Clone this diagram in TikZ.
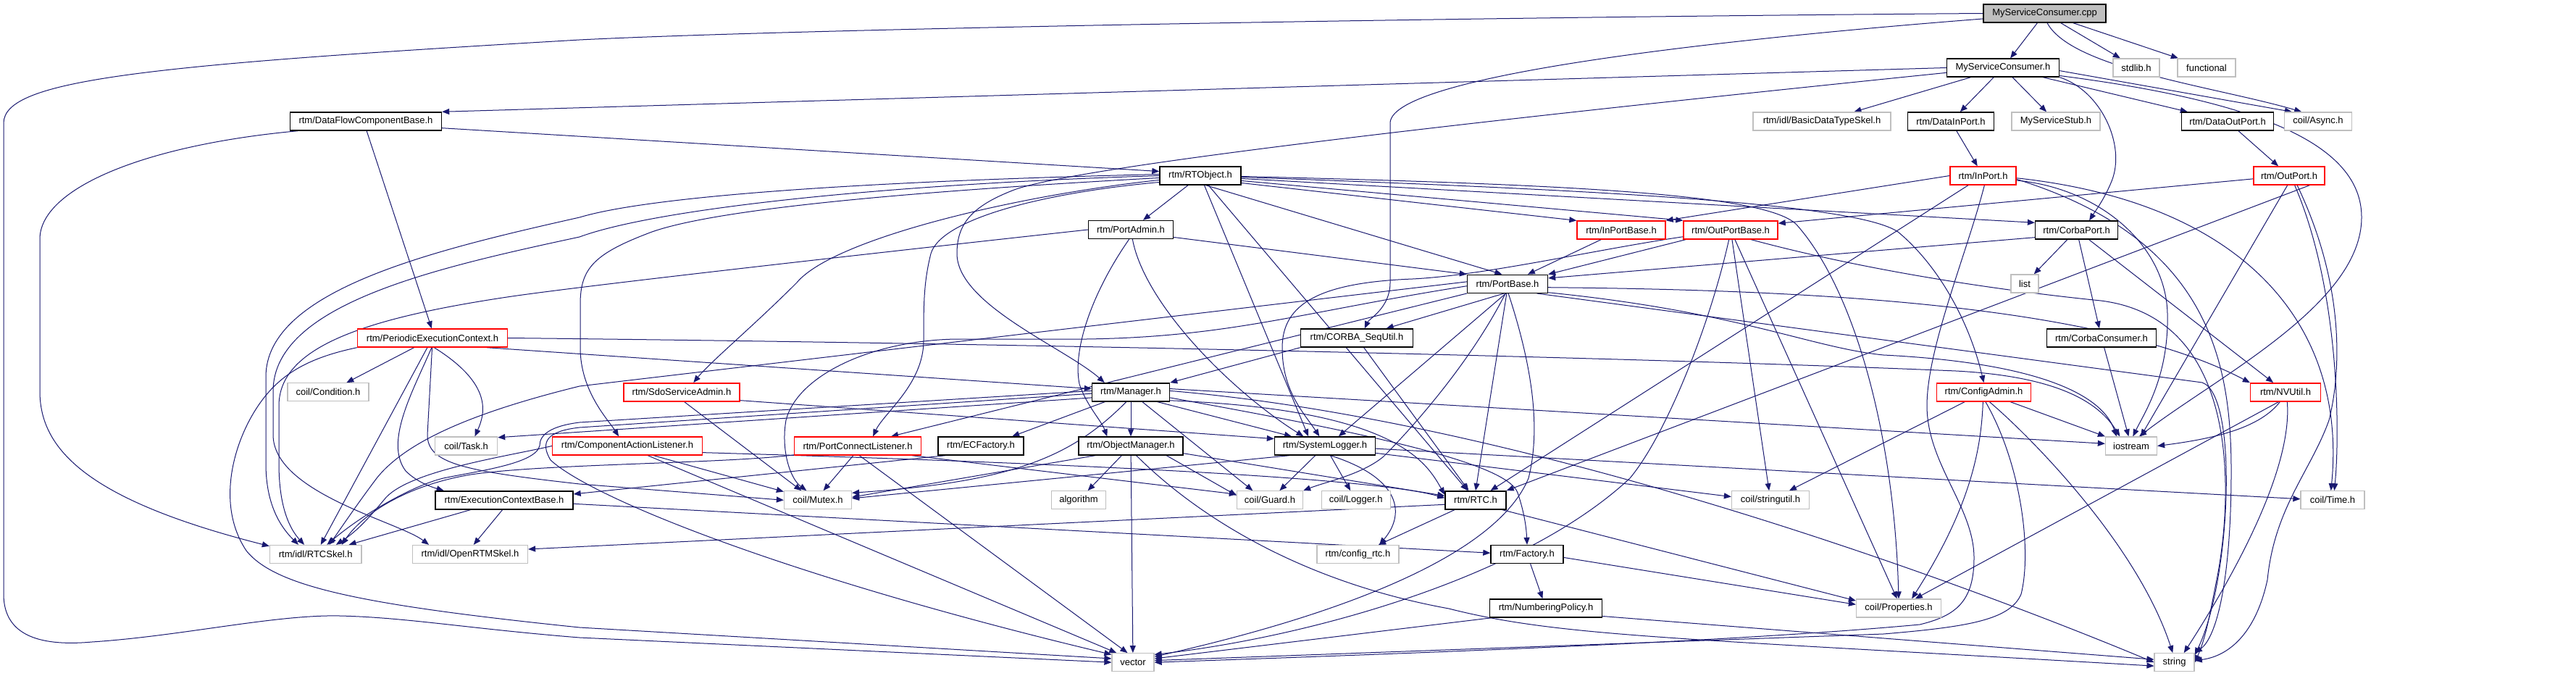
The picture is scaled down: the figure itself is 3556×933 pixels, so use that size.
\documentclass[tikz,border=0pt]{standalone}
\usepackage{fontspec}
\setmainfont{Liberation Sans}
\usetikzlibrary{arrows.meta}
\definecolor{edgec}{HTML}{191970}
\definecolor{extg}{HTML}{BFBFBF}
\definecolor{cppfill}{HTML}{BFBFBF}
\definecolor{trc}{HTML}{FF0000}
\pgfdeclarelayer{bg}
\pgfsetlayers{bg,main}
\tikzset{
  box/.style={draw=black,line width=1.4pt,fill=white,minimum height=25pt,inner sep=0pt,font=\fontsize{13}{15}\selectfont},
  docb/.style={box},
  extb/.style={box,draw=extg,line width=1.3pt},
  trub/.style={box,draw=trc},
  ed/.style={draw=edgec,line width=1pt,-{Triangle[length=10pt,width=8pt]}},
}
\newcommand\mknode[5]{\node[#1,minimum width=#4pt] (#2) at (#3) {#5};}
\begin{document}
\begin{tikzpicture}[x=1pt,y=-1pt]
\useasboundingbox (0,0) rectangle (3556,933);
% ---------------- nodes
\mknode{docb,fill=cppfill}{cpp}{2822.5,18.5}{169}{MyServiceConsumer.cpp}
\mknode{docb}{msh}{2765,93.5}{155}{MyServiceConsumer.h}
\mknode{extb}{stdlib}{2949,93.5}{64}{stdlib.h}
\mknode{extb}{functional}{3046,93.5}{80}{functional}
\mknode{extb}{async}{3200,167.5}{93}{coil/Async.h}
\mknode{extb}{bdts}{2515,167.5}{190}{rtm/idl/BasicDataTypeSkel.h}
\mknode{docb}{dinport}{2693,167.5}{119}{rtm/DataInPort.h}
\mknode{extb}{stub}{2838,167.5}{122}{MyServiceStub.h}
\mknode{docb}{doutport}{3075,167.5}{127}{rtm/DataOutPort.h}
\mknode{docb}{dfcb}{505,167.5}{209}{rtm/DataFlowComponentBase.h}
\mknode{docb}{rtobj}{1657,242.5}{112}{rtm/RTObject.h}
\mknode{trub}{inport}{2737.5,242.5}{91}{rtm/InPort.h}
\mknode{trub}{outport}{3160,242.5}{98}{rtm/OutPort.h}
\mknode{docb}{portadmin}{1561,317}{117}{rtm/PortAdmin.h}
\mknode{trub}{inportbase}{2238,317.5}{122}{rtm/InPortBase.h}
\mknode{trub}{outportbase}{2389,317.5}{130}{rtm/OutPortBase.h}
\mknode{docb}{corbaport}{2866.6,317.5}{114}{rtm/CorbaPort.h}
\mknode{docb}{portbase}{2081,391.8}{111}{rtm/PortBase.h}
\mknode{extb}{list}{2795,391.5}{38}{list}
\mknode{docb}{corbaseq}{1873,466.5}{155}{rtm/CORBA\_SeqUtil.h}
\mknode{docb}{corbacons}{2901,466.5}{151}{rtm/CorbaConsumer.h}
\mknode{trub}{pec}{597,466.5}{207}{rtm/PeriodicExecutionContext.h}
\mknode{trub}{sdo}{941,541.3}{160}{rtm/SdoServiceAdmin.h}
\mknode{docb}{manager}{1561,541.3}{107}{rtm/Manager.h}
\mknode{trub}{configadmin}{2738.5,541.3}{130}{rtm/ConfigAdmin.h}
\mknode{trub}{nvutil}{3155,541.3}{97}{rtm/NVUtil.h}
\mknode{extb}{condition}{453,541.3}{112}{coil/Condition.h}
\mknode{extb}{task}{643.6,615.5}{86}{coil/Task.h}
\mknode{trub}{cal}{866,615.5}{207}{rtm/ComponentActionListener.h}
\mknode{trub}{pcl}{1184,615.5}{174.5}{rtm/PortConnectListener.h}
\mknode{docb}{ecfactory}{1354,615.5}{118}{rtm/ECFactory.h}
\mknode{docb}{objmgr}{1561,615.5}{144}{rtm/ObjectManager.h}
\mknode{docb}{syslog}{1829,615.5}{139}{rtm/SystemLogger.h}
\mknode{extb}{iostream}{2942,615.5}{71}{iostream}
\mknode{docb}{ecbase}{696,690.3}{190}{rtm/ExecutionContextBase.h}
\mknode{extb}{mutex}{1129,690.3}{93}{coil/Mutex.h}
\mknode{extb}{algorithm}{1489,690.3}{74.5}{algorithm}
\mknode{extb}{guard}{1753,690.3}{91}{coil/Guard.h}
\mknode{extb}{logger}{1871.7,690.3}{95}{coil/Logger.h}
\mknode{docb}{rtc}{2037,690.3}{84}{rtm/RTC.h}
\mknode{extb}{stringutil}{2444,690.3}{107}{coil/stringutil.h}
\mknode{extb}{time}{3220,690.3}{88}{coil/Time.h}
\mknode{extb}{rtcskel}{435.7,765}{126.5}{rtm/idl/RTCSkel.h}
\mknode{extb}{openrtmskel}{649,765}{159}{rtm/idl/OpenRTMSkel.h}
\mknode{extb}{configrtc}{1874.5,765}{113}{rtm/config\_rtc.h}
\mknode{docb}{factory}{2108,765}{100}{rtm/Factory.h}
\mknode{docb}{numbering}{2134,839.5}{155}{rtm/NumberingPolicy.h}
\mknode{extb}{properties}{2621,839.5}{117}{coil/Properties.h}
\mknode{extb}{vector}{1564,914.2}{58}{vector}
\mknode{extb}{string}{3001.6,914.2}{55}{string}
% ---------------- edges
\begin{pgfonlayer}{bg}
\fill[white] (0,0) rectangle (3556,933);
% cpp
\draw[ed] (cpp) -- (msh);
\draw[ed] (cpp) -- (stdlib);
\draw[ed] (cpp) -- (functional);
\draw[ed] (cpp.-75) .. controls (2860,95) and (3060,120) .. (async.150);
\draw[ed] (cpp.west) .. controls (2000,24) and (1100,40) .. (800,55) .. controls (200,90) and (5,110) .. (5,170) -- (5,820) .. controls (5,880) and (60,892) .. (127,886) .. controls (250,878) and (380,848) .. (469,850) .. controls (560,852) and (650,868) .. (800,880) -- (vector.west);
\draw[ed] (cpp.185) .. controls (2300,60) and (1919,110) .. (1919,170) -- (1919,390) .. controls (1919,425) and (1890,440) .. (corbaseq.51);
% MyServiceConsumer.h
\draw[ed] (msh.west) -- (dfcb.north east);
\draw[ed] (msh.185) .. controls (2200,150) and (1500,225) .. (1400,262) .. controls (1340,285) and (1321,310) .. (1321,350) .. controls (1321,420) and (1470,480) .. (manager.160);
\draw[ed] (msh) -- (bdts);
\draw[ed] (msh) -- (dinport);
\draw[ed] (msh) -- (stub);
\draw[ed] (msh) -- (doutport);
\draw[ed] (msh.south east) .. controls (2900,125) and (2935,200) .. (2915,250) .. controls (2905,275) and (2890,295) .. (corbaport.37);
\draw[ed] (msh.-3) -- (async.160);
\draw[ed] (msh.-8) .. controls (3120,140) and (3260,200) .. (3260,300) .. controls (3260,420) and (3060,520) .. (iostream.50);
% DataFlowComponentBase
\draw[ed] (dfcb.-5) -- (rtobj.174);
\draw[ed] (dfcb.-85) -- (pec.95);
\draw[ed] (dfcb.188) .. controls (200,200) and (55,260) .. (55,330) -- (55,540) .. controls (55,620) and (120,690) .. (rtcskel.170);
% data ports
\draw[ed] (dinport) -- (inport);
\draw[ed] (doutport) -- (outport);
% InPort
\draw[ed] (inport.west) -- (inportbase.north east);
\draw[ed] (inport) -- (rtc);
\draw[ed] (inport.-82) .. controls (2715,350) and (2660,480) .. (2660,560) .. controls (2660,640) and (2725,700) .. (2725,770) .. controls (2725,830) and (2700,850) .. (2650,862) .. controls (2400,885) and (2000,900) .. (vector.east);
\draw[ed] (inport.-8) .. controls (2900,260) and (2990,340) .. (2992,433) .. controls (2994,520) and (2960,570) .. (iostream.80);
\draw[ed] (inport.-4) .. controls (3100,280) and (3240,450) .. (time.100);
\draw[ed] (inport.-6) .. controls (3050,330) and (3080,500) .. (3080,650) .. controls (3080,800) and (3060,880) .. (string.25);
% OutPort
\draw[ed] (outport.185) -- (outportbase.8);
\draw[ed] (outport.-25) -- (rtc.north east);
\draw[ed] (outport.-100) -- (iostream.45);
\draw[ed] (outport.-50) .. controls (3240,400) and (3230,520) .. (3215,580) .. controls (3190,650) and (3140,700) .. (3130,800) .. controls (3115,870) and (3080,905) .. (string.5);
\draw[ed] (outport.-60) .. controls (3230,400) and (3230,600) .. (time.80);
% RTObject
\draw[ed] (rtobj) -- (portadmin);
\draw[ed] (rtobj.-10) -- (inportbase.168);
\draw[ed] (rtobj.-7) -- (outportbase.north west);
\draw[ed] (rtobj.-4) -- (corbaport.170);
\draw[ed] (rtobj.-60) -- (portbase.120);
\draw[ed] (rtobj.-2) .. controls (2200,262) and (2560,280) .. (2620,320) .. controls (2680,370) and (2720,450) .. (configadmin.north);
\draw[ed] (rtobj.-1) .. controls (2200,255) and (2440,270) .. (2480,310) .. controls (2560,400) and (2615,600) .. (properties.north);
\draw[ed] (rtobj) -- (rtc);
\draw[ed] (rtobj) -- (syslog.150);
\draw[ed] (rtobj.186) .. controls (1400,270) and (1150,330) .. (1100,390) .. controls (1040,450) and (980,500) .. (sdo.39);
\draw[ed] (rtobj.183) .. controls (1300,262) and (1000,285) .. (900,320) .. controls (820,350) and (801,370) .. (801,420) -- (801,480) .. controls (801,540) and (840,580) .. (cal.132);
\draw[ed] (rtobj.189) .. controls (1450,265) and (1300,300) .. (1285,350) .. controls (1275,390) and (1275,420) .. (1275,470) .. controls (1275,530) and (1220,570) .. (pcl.32);
\draw[ed] (rtobj.178) .. controls (1200,250) and (900,270) .. (800,300) .. controls (600,345) and (367,400) .. (367,520) -- (367,640) .. controls (367,700) and (390,730) .. (rtcskel.151);
\draw[ed] (rtobj.180) .. controls (1200,255) and (900,290) .. (800,327) .. controls (600,370) and (377,420) .. (377,540) -- (377,600) .. controls (377,680) and (550,720) .. (openrtmskel.167);
% PortAdmin
\draw[ed] (portadmin.-10) -- (portbase.north west);
\draw[ed] (portadmin.-100) .. controls (1510,400) and (1480,480) .. (1490,530) .. controls (1500,560) and (1520,580) .. (objmgr.158);
\draw[ed] (portadmin.-80) .. controls (1580,420) and (1700,540) .. (syslog.156);
\draw[ed] (portadmin.west) .. controls (1200,350) and (800,395) .. (700,410) .. controls (500,440) and (385,480) .. (385,560) -- (385,640) .. controls (385,700) and (400,730) .. (rtcskel.140);
% in/out port base
\draw[ed] (inportbase) -- (portbase);
\draw[ed] (outportbase.192) -- (portbase.north east);
\draw[ed] (outportbase.188) .. controls (2200,345) and (2050,380) .. (1950,385) .. controls (1820,390) and (1770,420) .. (1770,480) .. controls (1770,540) and (1800,570) .. (syslog.120);
\draw[ed] (outportbase) -- (stringutil);
\draw[ed] (outportbase) -- (properties.100);
\draw[ed] (outportbase.-100) .. controls (2360,450) and (2300,600) .. (2250,660) .. controls (2100,800) and (1800,880) .. (vector.20);
\draw[ed] (outportbase.-25) .. controls (2600,380) and (2800,405) .. (2900,415) .. controls (3100,440) and (3080,700) .. (3060,800) .. controls (3050,850) and (3045,880) .. (string.east);
% PortBase
\draw[ed] (portbase.-110) -- (corbaseq.18);
\draw[ed] (portbase.-100) -- (syslog.35);
\draw[ed] (portbase.-95) -- (rtc.north);
\draw[ed] (portbase.-102) .. controls (2030,500) and (1950,590) .. (1910,630) .. controls (1880,655) and (1830,665) .. (guard.north east);
\draw[ed] (portbase.-85) .. controls (2120,520) and (2125,600) .. (2110,660) .. controls (2060,780) and (1800,860) .. (vector.15);
\draw[ed] (portbase.south west) -- (pcl.16);
\draw[ed] (portbase.183) .. controls (1800,430) and (1700,465) .. (1500,468) -- (1320,468) .. controls (1200,470) and (1100,520) .. (1085,580) .. controls (1078,620) and (1090,660) .. (mutex.140);
\draw[ed] (portbase.177) -- (800,533) .. controls (650,570) and (560,610) .. (520,660) .. controls (490,700) and (470,730) .. (rtcskel.35);
\draw[ed] (portbase.-5) .. controls (2500,400) and (2900,420) .. (nvutil.165);
\draw[ed] (portbase.-12) .. controls (2400,430) and (2500,480) .. (2600,490) .. controls (2800,500) and (2900,540) .. (iostream.147);
\draw[ed] (portbase.-18) -- (3040,528) .. controls (3090,545) and (3080,800) .. (string.20);
% CORBA_SeqUtil
\draw[ed] (corbaseq.south west) -- (manager.north east);
\draw[ed] (corbaseq) -- (rtc);
% CorbaPort
\draw[ed] (corbaport.190) -- (portbase.8);
\draw[ed] (corbaport) -- (list);
\draw[ed] (corbaport) -- (corbacons);
\draw[ed] (corbaport) -- (nvutil);
\draw[ed] (corbacons) -- (iostream);
% PeriodicExecutionContext
\draw[ed] (pec) -- (condition);
\draw[ed] (pec.-80) .. controls (680,530) and (670,570) .. (task.48);
\draw[ed] (pec.-10) -- (manager.175);
\draw[ed] (pec.east) .. controls (1500,475) and (2300,495) .. (2700,512) .. controls (2850,520) and (2900,560) .. (iostream.140);
\draw[ed] (pec.south west) .. controls (420,495) and (380,520) .. (350,570) .. controls (320,620) and (300,700) .. (340,760) .. controls (380,810) and (500,835) .. (800,866) -- (vector.170);
\draw[ed] (pec) -- (rtcskel);
\draw[ed] (pec.-95) .. controls (570,540) and (530,610) .. (560,650) .. controls (575,665) and (595,672) .. (ecbase.171);
\draw[ed] (pec.-92) -- (590,600) .. controls (590,640) and (640,650) .. (800,668) -- (mutex.west);
% SdoServiceAdmin
\draw[ed] (sdo.-75) -- (mutex.150);
\draw[ed] (sdo.-8) -- (syslog.172);
% Manager
\draw[ed] (manager.188) -- (task.15);
\draw[ed] (manager) -- (ecfactory.17);
\draw[ed] (manager.-115) .. controls (1480,630) and (1400,665) .. (mutex.12);
\draw[ed] (manager) -- (objmgr);
\draw[ed] (manager.-40) -- (guard.151);
\draw[ed] (manager.-20) -- (syslog.164);
\draw[ed] (manager.5) -- (iostream.175);
\draw[ed] (manager.2) .. controls (2100,580) and (2700,800) .. (string.west);
\draw[ed] (manager.-8) .. controls (1900,600) and (2080,640) .. (2095,680) .. controls (2105,710) and (2107,730) .. (factory.north);
\draw[ed] (manager.-12) .. controls (1930,565) and (1970,640) .. (rtc.170);
\draw[ed] (manager.182) -- (800,590) .. controls (755,595) and (745,610) .. (760,635) .. controls (820,690) and (1100,800) .. (vector.160);
\draw[ed] (manager.178) -- (800,583) .. controls (760,588) and (745,600) .. (745,615) .. controls (740,640) and (660,650) .. (612,660) .. controls (570,670) and (500,710) .. (rtcskel.40);
% ObjectManager
\draw[ed] (objmgr) -- (algorithm);
\draw[ed] (objmgr) -- (vector);
\draw[ed] (objmgr.-15) -- (guard.172);
\draw[ed] (objmgr.195) -- (mutex.5);
\draw[ed] (objmgr.-8) -- (rtc.172);
\draw[ed] (objmgr.-60) .. controls (1640,700) and (1780,800) .. (2000,840) .. controls (2150,878) and (2300,880) .. (string.190);
% SystemLogger
\draw[ed] (syslog) -- (guard);
\draw[ed] (syslog) -- (logger);
\draw[ed] (syslog.195) -- (mutex.3);
\draw[ed] (syslog.-60) .. controls (1935,660) and (1940,710) .. (configrtc.24);
\draw[ed] (syslog.-8) -- (stringutil.175);
\draw[ed] (syslog.-3) -- (time.178);
% RTC
\draw[ed] (rtc.188) -- (openrtmskel.5);
\draw[ed] (rtc) -- (configrtc);
\draw[ed] (rtc.-20) -- (properties.170);
% ExecutionContextBase / ECFactory
\draw[ed] (ecbase.196) -- (rtcskel.16);
\draw[ed] (ecbase.-100) -- (openrtmskel.70);
\draw[ed] (ecbase.-3) -- (factory.178);
\draw[ed] (ecfactory.195) -- (ecbase.5);
% ComponentActionListener
\draw[ed] (cal.west) .. controls (700,630) and (560,650) .. (530,690) .. controls (505,720) and (490,735) .. (rtcskel.25);
\draw[ed] (cal.-20) -- (mutex.166);
\draw[ed] (cal.-25) -- (vector.150);
\draw[ed] (cal.-5) .. controls (1500,640) and (1900,660) .. (rtc.176);
% PortConnectListener
\draw[ed] (pcl.-115) -- (mutex.60);
\draw[ed] (pcl.-80) -- (vector.120);
\draw[ed] (pcl.188) .. controls (1000,640) and (750,640) .. (650,655) .. controls (560,670) and (500,710) .. (rtcskel.20);
\draw[ed] (pcl.-10) -- (guard.170);
% Factory / NumberingPolicy
\draw[ed] (factory) -- (numbering);
\draw[ed] (factory.-5) -- (properties.175);
\draw[ed] (numbering.190) -- (vector.10);
\draw[ed] (numbering.-8) -- (string.172);
% ConfigAdmin
\draw[ed] (configadmin) -- (stringutil);
\draw[ed] (configadmin.-95) .. controls (2735,620) and (2720,700) .. (properties.36);
\draw[ed] (configadmin.-80) .. controls (2790,640) and (2805,760) .. (2790,820) .. controls (2775,855) and (2720,865) .. (2600,875) -- (vector.5);
\draw[ed] (configadmin.-60) .. controls (2800,600) and (2950,750) .. (string.100);
\draw[ed] (configadmin) -- (iostream);
% NVUtil
\draw[ed] (nvutil.-120) .. controls (3120,590) and (3060,605) .. (iostream.east);
\draw[ed] (nvutil.-125) -- (properties.30);
\draw[ed] (nvutil.-80) .. controls (3165,650) and (3080,800) .. (string.45);
\end{pgfonlayer}
\end{tikzpicture}
\end{document}
